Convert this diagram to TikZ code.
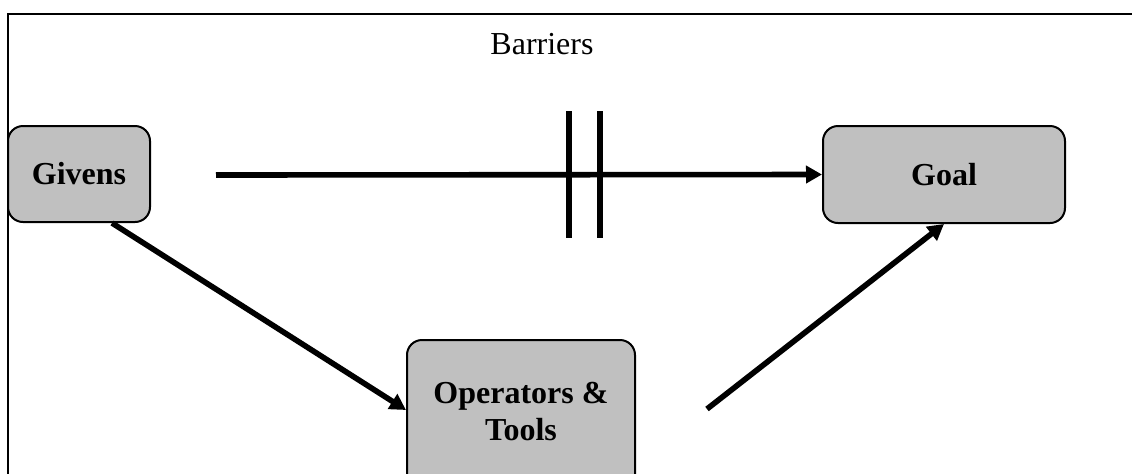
\documentclass[tikz,border=0pt]{standalone}
\usepackage{fontspec}
\setmainfont{Liberation Serif}
\usepackage{tikz}
\usetikzlibrary{arrows.meta,positioning}
\definecolor{boxgray}{RGB}{192,192,192}

\begin{document}
\begin{tikzpicture}[x=0.5pt,y=-0.5pt,>={Triangle[length=8pt,width=8.5pt]},
    box/.style={draw=black,line width=1pt,fill=boxgray,rounded corners=7.5pt,
      font=\fontsize{16}{18.5}\selectfont\bfseries,align=center,inner sep=0pt},
    flow/.style={->,line width=2.8pt},
    barrier/.style={line width=3pt}]
      \useasboundingbox (0,0) rectangle (1132,473);
      \clip (0,0) rectangle (1132,473);
      % frame
      \draw[line width=1pt] (1132,14) -- (7.5,14) -- (7.5,480);
      \node (barriers) at (542,44) {\fontsize{16}{18.5}\selectfont Barriers};
      \node (givens) [box,minimum width=71pt,minimum height=48pt] at (79,174) {Givens};
      \node (goal) [box,minimum width=121pt,minimum height=48.5pt] at (944,174.5) {Goal};
      \node (tools) [box,minimum width=114pt,minimum height=76pt] at (521,416) {Operators \&\\Tools\\[-13.5pt]\mbox{}};
      \coordinate (start) at (216,175);
      \coordinate (back) at (707,409);
      % barriers
      \draw[barrier] (568.5,111) -- (568.5,238);
      \draw[barrier] (600,111) -- (600,238);
      \draw[flow] (start) -- (goal.west);
      \draw[flow] ([xshift=16.5pt]givens.south) -- ([yshift=3pt]tools.west);
      \draw[flow] (back) -- (goal.south);
    \end{tikzpicture}
\end{document}
